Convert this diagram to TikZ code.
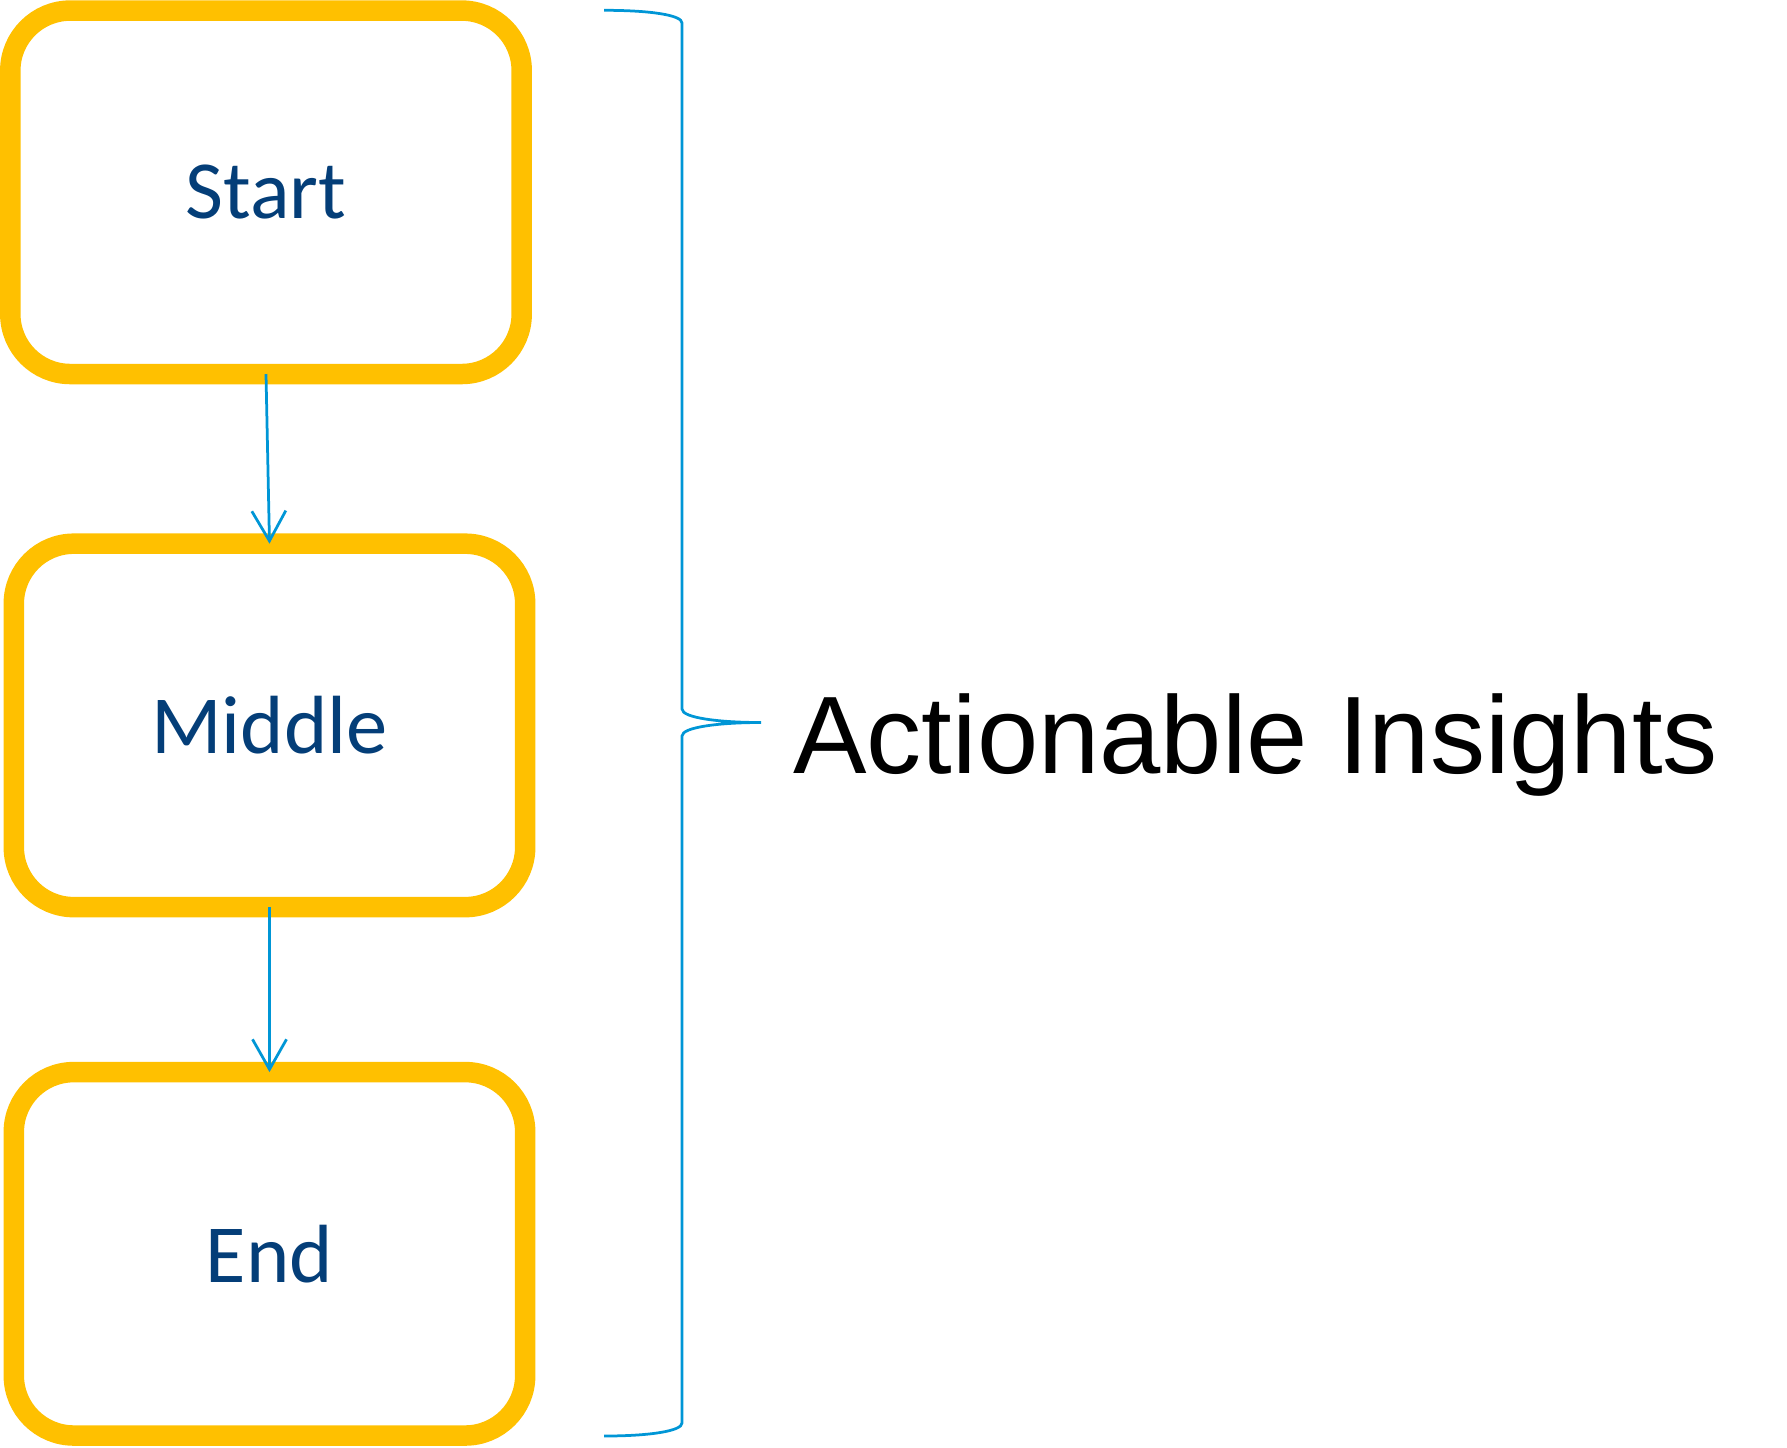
\documentclass[tikz,border=0pt]{standalone}
\usepackage{fontspec}
\setmainfont{Liberation Sans}
\newfontfamily\boxfont{Carlito}
\usepackage{tikz}
\usetikzlibrary{arrows.meta}

\definecolor{boxgold}{RGB}{255,192,0}
\definecolor{boxtext}{RGB}{4,62,120}
\definecolor{linkblue}{RGB}{0,150,214}

\tikzset{
  stage/.style={draw=boxgold, line width=0.41cm, rounded corners=1.2cm,
    minimum width=10.23cm, minimum height=7.27cm, outer sep=0pt,
    text=boxtext, font=\boxfont\fontsize{47}{56}\selectfont},
  flow/.style={draw=linkblue, line width=0.055cm,
    -{Straight Barb[length=0.6cm,width=0.68cm]}},
  brace/.style={draw=linkblue, line width=0.055cm}
}

\begin{document}
\begin{tikzpicture}[x=0.02cm, y=-0.02cm]
\useasboundingbox (0,0) rectangle (1787,1447);

\node [stage] (start) at (266,192.3) {Start};
\node [stage] (middle) at (269.5,725.4) {Middle};
\node [stage] (finish) at (269.5,1253.8) {End};

\draw [flow] (start.south) -- (middle.north);
\draw [flow] (middle.south) -- (finish.north);

% curly bracket over all three stages
\coordinate (tip) at (761,722.5);
\draw [brace] (604,10.3) .. controls (650,10.3) and (682,15) .. (682,23)
  -- (682,709) .. controls (682,718) and (720,722.5) .. (tip)
  .. controls (720,722.5) and (682,727) .. (682,736)
  -- (682,1423) .. controls (682,1431) and (650,1436) .. (604,1436);

\node [anchor=base west, inner sep=0pt, font=\fontsize{62.7}{75}\selectfont]
  (insights) at (793,773) {Actionable Insights};

\end{tikzpicture}
\end{document}
